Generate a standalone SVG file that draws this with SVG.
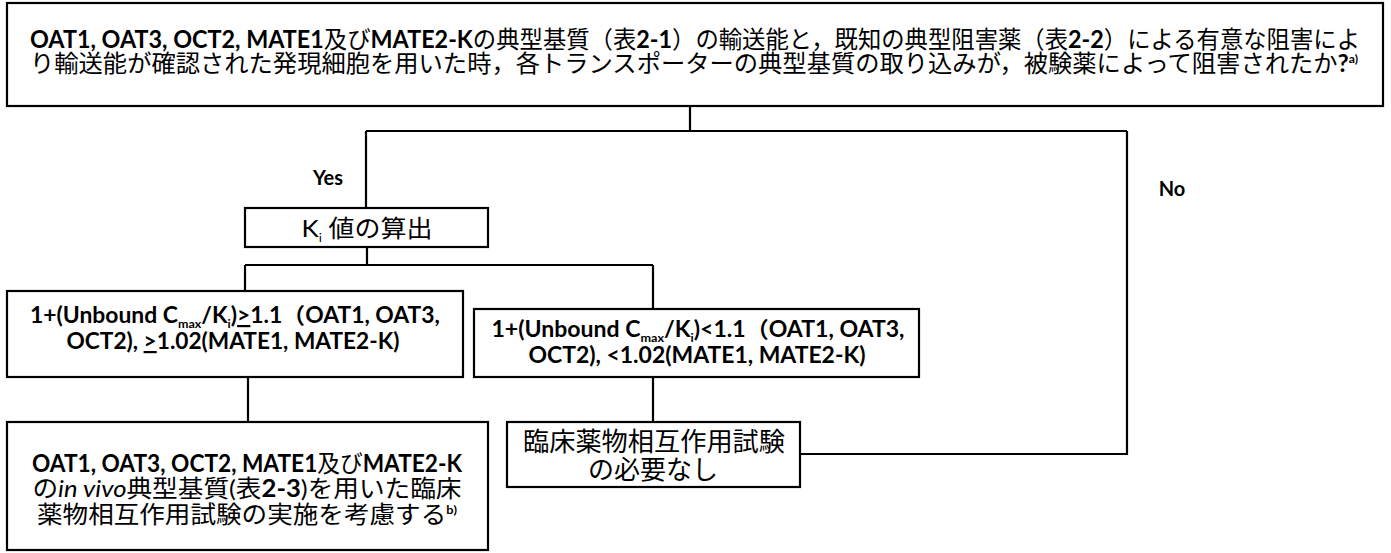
<svg xmlns="http://www.w3.org/2000/svg" width="1391" height="553" viewBox="0 0 1391 553">
<style>
.box{fill:#fff;stroke:#000;stroke-width:2.2}
.ln{fill:none;stroke:#000;stroke-width:2.2}
text{font-family:Lato,"Noto Sans CJK JP",sans-serif;fill:#000;text-anchor:middle}
.b{font-weight:bold}
.sub{font-size:12px}
.sup{font-size:12px;font-weight:bold}
.u{text-decoration:underline}
</style>
<rect width="1391" height="553" fill="#fff"/>
<g id="connectors">
<path class="ln" d="M690 106V131M366 131H1127M366 131V208"/>
<path class="ln" d="M367 247V265M245 265H653M245 265V291M653 265V309"/>
<path class="ln" d="M248 377V422M653 377V422"/>
<path class="ln" d="M1127 131V454H800"/>
</g>
<g id="labels">
<text x="328" y="185" class="b" font-size="20">Yes</text>
<text x="1172" y="196" class="b" font-size="20">No</text>
</g>
<g id="question">
<rect class="box" x="7" y="3" width="1376" height="103"/>
<text font-size="24"><tspan x="695" y="48" textLength="1330" lengthAdjust="spacingAndGlyphs"><tspan class="b">OAT1, OAT3, OCT2, MATE1</tspan>及び<tspan class="b">MATE2-K</tspan>の典型基質（表<tspan class="b">2-1</tspan>）の輸送能と，既知の典型阻害薬（表<tspan class="b">2-2</tspan>）による有意な阻害によ</tspan><tspan x="694" y="72" textLength="1328" lengthAdjust="spacingAndGlyphs">り輸送能が確認された発現細胞を用いた時，各トランスポーターの典型基質の取り込みが，被験薬によって阻害されたか<tspan class="b">?</tspan><tspan class="sup" dy="-9">a)</tspan></tspan></text>
</g>
<g id="ki">
<rect class="box" x="245" y="208" width="243" height="39"/>
<text x="367" y="237" font-size="24" textLength="131" lengthAdjust="spacingAndGlyphs">K<tspan class="sub" dy="5">i</tspan><tspan dy="-5"> 値の算出</tspan></text>
</g>
<g id="cond-high">
<rect class="box" x="7" y="291" width="456" height="86"/>
<text font-size="22" class="b"><tspan x="235" y="323" textLength="410" lengthAdjust="spacingAndGlyphs">1+(Unbound C<tspan class="sub" dy="5">max</tspan><tspan dy="-5">/K</tspan><tspan class="sub" dy="5">i</tspan><tspan dy="-5">)</tspan><tspan class="u">&gt;</tspan>1.1（OAT1, OAT3,</tspan><tspan x="233" y="349" textLength="333" lengthAdjust="spacingAndGlyphs">OCT2), <tspan class="u">&gt;</tspan>1.02(MATE1, MATE2-K)</tspan></text>
</g>
<g id="cond-low">
<rect class="box" x="474" y="309" width="445" height="68"/>
<text font-size="22" class="b"><tspan x="698" y="337" textLength="413" lengthAdjust="spacingAndGlyphs">1+(Unbound C<tspan class="sub" dy="5">max</tspan><tspan dy="-5">/K</tspan><tspan class="sub" dy="5">i</tspan><tspan dy="-5">)&lt;1.1（OAT1, OAT3,</tspan></tspan><tspan x="697" y="363" textLength="337" lengthAdjust="spacingAndGlyphs">OCT2), &lt;1.02(MATE1, MATE2-K)</tspan></text>
</g>
<g id="consider-ddi">
<rect class="box" x="7" y="422" width="481" height="128"/>
<text font-size="24"><tspan x="247" y="472" textLength="430" lengthAdjust="spacingAndGlyphs"><tspan class="b">OAT1, OAT3, OCT2, MATE1</tspan>及び<tspan class="b">MATE2-K</tspan></tspan><tspan x="247" y="497" textLength="429" lengthAdjust="spacingAndGlyphs">の<tspan font-style="italic">in vivo</tspan>典型基質(表<tspan class="b">2-3</tspan>)を用いた臨床</tspan><tspan x="247" y="523" textLength="420" lengthAdjust="spacingAndGlyphs">薬物相互作用試験の実施を考慮する<tspan class="sup" dy="-9">b)</tspan></tspan></text>
</g>
<g id="no-ddi">
<rect class="box" x="507" y="422" width="293" height="65"/>
<text font-size="26"><tspan x="654" y="451" textLength="262" lengthAdjust="spacingAndGlyphs">臨床薬物相互作用試験</tspan><tspan x="653" y="479">の必要なし</tspan></text>
</g>
</svg>
